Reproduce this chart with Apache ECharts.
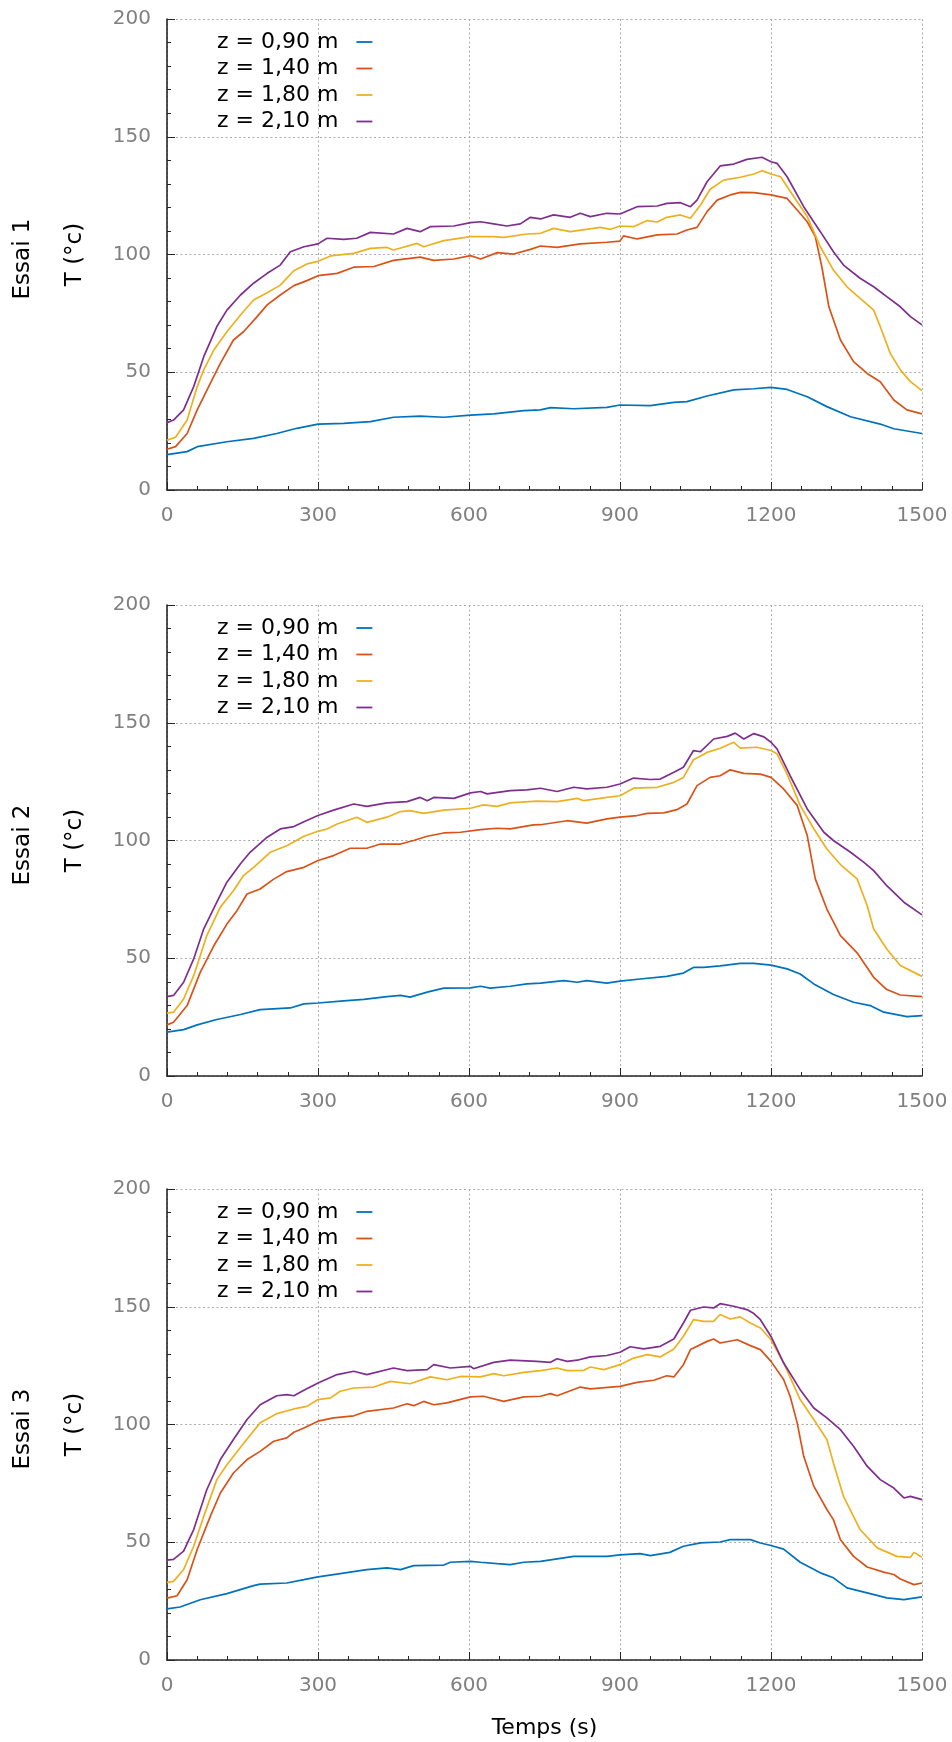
<!DOCTYPE html>
<html>
<head>
<meta charset="utf-8">
<script src="https://cdn.jsdelivr.net/npm/echarts@6/dist/echarts.min.js"></script>
<style>
html,body{margin:0;padding:0;background:#fff;}
#chart{width:952px;height:1742px;}
</style>
</head>
<body>
<div id="chart"></div>
<script>
// ---- data: [time (s), temperature (°C)] ----
const seriesNames = ['z = 0,90 m', 'z = 1,40 m', 'z = 1,80 m', 'z = 2,10 m'];
const trialNames = ['Essai 1', 'Essai 2', 'Essai 3'];
const xTicks = [0, 300, 600, 900, 1200, 1500];
const yTicks = [0, 50, 100, 150, 200];

const e1_090 = [[0,15.0],[40,16.3],[60,18.4],[119,20.5],[172,21.9],[218,24.0],[258,26.2],[300,28.0],[351,28.3],[404,29.0],[450,30.9],[503,31.4],[550,30.9],[603,31.8],[649,32.3],[709,33.7],[742,34.0],[762,35.0],[808,34.5],[874,35.1],[900,36.1],[960,35.8],[1007,37.2],[1033,37.5],[1073,39.9],[1126,42.5],[1166,43.0],[1200,43.6],[1232,42.7],[1272,39.6],[1311,35.4],[1358,31.1],[1417,28.0],[1444,26.0],[1500,24.0]];
const e1_140 = [[0,17.3],[17,18.4],[40,24.0],[60,34.0],[86,45.3],[106,53.8],[132,63.7],[152,67.2],[179,73.6],[199,78.6],[225,82.8],[252,86.8],[278,88.9],[300,91.0],[338,92.0],[371,94.6],[411,94.9],[450,97.5],[503,98.9],[530,97.5],[570,98.1],[603,99.5],[623,98.1],[656,100.8],[689,100.2],[722,102.2],[742,103.6],[775,103.0],[821,104.5],[874,105.2],[900,105.7],[907,107.9],[934,106.6],[974,108.3],[1013,108.7],[1033,110.4],[1053,111.5],[1073,118.2],[1093,123.1],[1119,125.3],[1139,126.4],[1166,126.3],[1200,125.3],[1232,123.8],[1252,118.9],[1272,113.9],[1288,107.6],[1301,94.8],[1315,77.8],[1338,63.7],[1364,54.5],[1391,49.5],[1417,46.0],[1444,38.2],[1470,34.0],[1500,32.3]];
const e1_180 = [[0,21.2],[17,22.4],[40,29.7],[60,43.9],[73,51.0],[93,59.4],[119,67.2],[146,74.3],[172,80.7],[199,83.8],[225,87.0],[252,93.1],[278,96.0],[300,97.1],[325,99.4],[371,100.5],[404,102.6],[437,103.0],[450,101.9],[497,104.7],[510,103.3],[550,105.9],[603,107.6],[649,107.6],[669,107.3],[715,108.7],[742,109.0],[768,111.1],[801,109.7],[861,111.5],[881,110.7],[900,112.1],[927,111.8],[954,114.4],[974,113.8],[993,115.8],[1020,116.8],[1040,115.4],[1060,121.0],[1079,127.7],[1106,131.6],[1139,132.8],[1166,134.2],[1182,135.6],[1200,134.2],[1219,133.0],[1245,124.6],[1272,116.1],[1298,103.3],[1324,93.4],[1351,86.3],[1377,81.4],[1404,76.4],[1417,69.4],[1437,58.0],[1457,51.0],[1477,46.0],[1500,42.2]];
const e1_210 = [[0,28.6],[13,29.7],[33,34.0],[53,43.9],[73,56.6],[99,69.4],[119,76.4],[146,82.8],[172,87.8],[199,92.0],[225,95.5],[245,101.2],[272,103.3],[300,104.5],[318,106.9],[351,106.4],[377,106.9],[404,109.4],[450,108.7],[477,111.1],[503,109.7],[523,111.8],[570,112.1],[603,113.5],[623,113.9],[649,113.0],[675,112.1],[702,113.0],[722,115.8],[742,115.1],[768,116.8],[801,115.8],[821,117.5],[841,116.1],[874,117.5],[900,117.2],[934,120.3],[974,120.6],[993,121.7],[1020,122.0],[1040,120.3],[1053,123.1],[1073,130.9],[1099,137.6],[1126,138.4],[1152,140.4],[1182,141.3],[1200,139.4],[1212,138.7],[1232,133.0],[1265,120.3],[1298,109.7],[1324,101.2],[1344,95.5],[1377,89.9],[1404,86.3],[1430,82.1],[1457,77.8],[1477,73.6],[1500,70.1]];

const e2_090 = [[0,18.6],[33,19.7],[60,21.7],[99,24.0],[146,26.1],[185,28.2],[245,28.9],[272,30.6],[300,31.0],[351,31.9],[391,32.5],[437,33.7],[464,34.2],[483,33.5],[517,35.6],[550,37.3],[603,37.4],[623,38.1],[642,37.3],[682,38.1],[715,39.1],[742,39.4],[788,40.5],[815,39.8],[834,40.5],[874,39.4],[900,40.3],[940,41.2],[993,42.3],[1026,43.7],[1046,46.1],[1066,46.1],[1099,46.8],[1139,47.8],[1166,47.8],[1200,47.1],[1232,45.5],[1258,43.3],[1285,39.1],[1324,34.6],[1364,31.3],[1397,29.9],[1424,27.1],[1470,25.2],[1500,25.6]];
const e2_140 = [[0,21.7],[13,22.8],[40,29.9],[66,44.0],[93,55.3],[119,64.5],[139,70.2],[159,77.3],[185,79.4],[212,83.6],[238,86.8],[272,88.6],[300,91.5],[331,93.6],[364,96.7],[397,96.7],[424,98.5],[464,98.5],[490,100.0],[517,101.8],[550,103.2],[583,103.5],[623,104.6],[656,105.2],[682,104.9],[728,106.6],[742,106.7],[795,108.4],[834,107.4],[874,109.2],[900,109.9],[934,110.6],[954,111.5],[987,111.7],[1013,113.1],[1033,115.5],[1053,123.3],[1079,126.8],[1099,127.5],[1119,130.0],[1146,128.5],[1179,128.2],[1200,126.8],[1225,121.9],[1252,114.9],[1272,102.1],[1288,83.7],[1311,70.9],[1338,59.6],[1371,52.3],[1404,41.9],[1430,36.7],[1457,34.4],[1500,33.7]];
const e2_180 = [[0,26.7],[13,27.1],[33,32.7],[53,42.6],[79,59.6],[106,71.7],[132,78.7],[152,85.1],[172,88.6],[205,95.0],[238,97.8],[272,101.8],[300,103.9],[318,104.9],[338,107.0],[377,109.9],[397,107.7],[437,109.9],[464,112.3],[483,112.7],[510,111.5],[550,112.9],[603,113.7],[629,115.1],[656,114.5],[682,116.0],[735,116.7],[775,116.5],[815,117.9],[828,116.9],[874,118.3],[900,119.0],[927,122.2],[974,122.6],[1007,124.7],[1026,126.8],[1046,134.3],[1073,137.4],[1099,139.2],[1126,141.7],[1139,139.2],[1172,139.6],[1200,138.2],[1212,136.8],[1232,128.2],[1258,114.9],[1285,105.0],[1311,96.4],[1338,89.8],[1371,83.7],[1391,72.4],[1404,62.4],[1430,53.9],[1457,46.9],[1500,42.3]];
const e2_210 = [[0,33.7],[13,34.2],[33,39.8],[53,49.7],[73,62.5],[99,73.8],[119,82.3],[146,90.1],[165,95.0],[199,101.4],[225,104.9],[252,105.9],[272,108.0],[300,110.6],[331,112.9],[371,115.5],[397,114.5],[437,116.0],[477,116.5],[503,118.3],[517,116.9],[530,118.3],[570,117.9],[603,120.2],[623,120.8],[636,119.8],[682,121.2],[715,121.5],[742,122.2],[775,120.8],[808,122.6],[834,121.9],[874,122.6],[900,124.0],[927,126.5],[960,125.9],[980,126.1],[1007,129.0],[1026,131.1],[1046,138.2],[1060,137.7],[1086,143.1],[1113,144.2],[1129,145.6],[1146,143.1],[1166,145.4],[1186,144.0],[1200,141.7],[1212,138.9],[1238,127.5],[1272,113.4],[1305,103.5],[1324,100.0],[1358,95.0],[1384,90.8],[1404,87.2],[1430,80.8],[1464,73.8],[1500,68.4]];

const e3_090 = [[0,21.7],[26,22.5],[66,25.6],[119,28.2],[172,31.6],[185,32.2],[238,32.7],[272,34.1],[300,35.3],[344,36.7],[397,38.4],[437,39.1],[464,38.4],[490,40.1],[550,40.3],[563,41.5],[603,41.9],[623,41.5],[656,40.9],[682,40.5],[709,41.5],[742,41.9],[808,44.0],[874,44.0],[900,44.6],[940,45.2],[960,44.3],[999,45.7],[1026,48.3],[1060,49.7],[1099,50.1],[1119,51.1],[1159,51.1],[1179,49.7],[1200,48.6],[1225,47.1],[1258,41.5],[1298,37.0],[1324,34.9],[1351,30.6],[1391,28.5],[1430,26.4],[1464,25.6],[1500,26.8]];
const e3_140 = [[0,26.3],[20,27.3],[40,34.1],[60,46.9],[86,61.0],[106,70.9],[132,79.4],[159,85.1],[185,88.6],[212,92.9],[238,94.3],[252,96.7],[272,98.5],[300,101.4],[331,102.8],[371,103.7],[397,105.6],[450,107.0],[477,108.8],[490,108.0],[510,109.8],[530,108.4],[556,109.2],[603,111.7],[629,112.0],[669,109.8],[709,111.7],[742,112.0],[762,113.1],[775,112.2],[821,115.9],[841,115.1],[900,116.2],[934,117.9],[967,118.8],[993,120.7],[1007,120.2],[1026,125.4],[1040,131.8],[1073,135.3],[1086,136.3],[1099,134.6],[1133,136.0],[1159,133.5],[1179,131.8],[1200,126.8],[1225,119.1],[1238,112.0],[1252,100.7],[1265,86.5],[1285,73.8],[1311,63.9],[1324,59.6],[1338,51.1],[1364,44.0],[1391,39.5],[1424,37.3],[1444,36.3],[1457,34.4],[1484,32.0],[1500,32.7]];
const e3_180 = [[0,33.0],[13,33.4],[33,38.4],[53,48.3],[73,61.0],[99,76.6],[119,82.9],[152,91.9],[185,100.7],[218,104.6],[252,106.6],[278,107.7],[300,110.6],[325,111.3],[344,114.1],[371,115.5],[411,115.9],[444,118.3],[483,117.3],[523,120.2],[556,119.0],[583,120.4],[623,120.2],[649,121.6],[669,120.7],[709,122.1],[742,122.9],[775,124.0],[795,122.9],[828,123.0],[841,124.4],[868,123.3],[900,125.4],[927,128.2],[954,129.7],[980,128.7],[1007,132.1],[1026,137.5],[1046,144.5],[1066,143.8],[1086,143.8],[1099,146.7],[1119,144.8],[1139,145.7],[1159,143.1],[1179,141.0],[1200,136.0],[1225,126.2],[1258,110.6],[1285,102.1],[1311,93.6],[1324,83.7],[1344,69.5],[1377,55.4],[1411,47.6],[1450,44.0],[1477,43.6],[1484,45.7],[1500,43.6]];
const e3_210 = [[0,42.4],[13,42.7],[33,46.2],[53,55.4],[79,72.3],[106,85.1],[132,93.6],[159,102.1],[185,108.4],[218,112.2],[238,112.7],[252,112.2],[272,114.5],[300,117.6],[338,121.2],[371,122.6],[397,121.2],[450,124.0],[477,122.9],[517,123.3],[530,125.4],[563,124.0],[603,124.7],[609,123.7],[649,126.4],[682,127.3],[735,126.8],[762,126.4],[775,127.9],[795,126.8],[815,127.3],[841,128.7],[874,129.3],[900,130.7],[920,133.0],[947,132.1],[980,133.2],[1007,136.3],[1026,143.1],[1040,148.5],[1066,149.9],[1086,149.5],[1099,151.3],[1126,150.2],[1152,148.8],[1166,147.1],[1179,144.5],[1200,137.4],[1225,126.2],[1258,114.8],[1285,107.0],[1311,102.8],[1338,97.8],[1364,90.8],[1391,82.3],[1417,76.6],[1444,73.0],[1464,68.8],[1477,69.5],[1500,68.1]];

const trials = [
  [e1_090, e1_140, e1_180, e1_210],
  [e2_090, e2_140, e2_180, e2_210],
  [e3_090, e3_140, e3_180, e3_210]
];
const colors = ['#0072BD', '#D95319', '#EDB120', '#7E2F8E'];

// ---- layout ----
const FONT = 'DejaVu Sans';
const gridLeft = 167, gridWidth = 755, gridHeight = 471;
const gridTops = [19, 605, 1189];

const chart = echarts.init(document.getElementById('chart'), null, {renderer: 'canvas'});

const grids = [], xAxes = [], yAxes = [], series = [], legends = [], graphics = [];
const axisColor = '#262626';
const splitLine = {show: true, lineStyle: {color: '#ababab', width: 1, type: [2, 2.5]}};
const plain = v => String(v);

trials.forEach((trial, i) => {
  grids.push({left: gridLeft, top: gridTops[i], width: gridWidth, height: gridHeight, containLabel: false});
  xAxes.push({
    type: 'value', gridIndex: i, min: xTicks[0], max: xTicks[xTicks.length - 1], interval: 300,
    axisLine: {show: true, onZero: false, lineStyle: {color: axisColor, width: 1.6}},
    axisTick: {show: true, inside: true, length: 8, lineStyle: {color: axisColor}},
    minorTick: {show: true, splitNumber: 5, length: 4, lineStyle: {color: axisColor}},
    axisLabel: {color: '#808080', fontSize: 20, fontFamily: FONT, margin: 16, formatter: plain},
    splitLine: splitLine,
    name: i === 2 ? 'Temps (s)' : '',
    nameLocation: 'middle', nameGap: 57,
    nameTextStyle: {color: '#000', fontSize: 22, fontFamily: FONT}
  });
  yAxes.push({
    type: 'value', gridIndex: i, min: yTicks[0], max: yTicks[yTicks.length - 1], interval: 50,
    axisLine: {show: true, lineStyle: {color: axisColor, width: 1.6}},
    axisTick: {show: true, inside: true, length: 8, lineStyle: {color: axisColor}},
    minorTick: {show: true, splitNumber: 5, length: 4, lineStyle: {color: axisColor}},
    axisLabel: {color: '#808080', fontSize: 20, fontFamily: FONT, margin: 16, formatter: plain},
    splitLine: splitLine,
    name: 'T (°c)', nameLocation: 'middle', nameRotate: 90, nameGap: 80,
    nameTextStyle: {color: '#000', fontSize: 23, fontFamily: FONT}
  });
  trial.forEach((data, k) => {
    series.push({
      type: 'line', name: seriesNames[k], xAxisIndex: i, yAxisIndex: i,
      data: data, showSymbol: false, symbol: 'none', smooth: false,
      lineStyle: {color: colors[k], width: 1.7}, itemStyle: {color: colors[k]},
      animation: false
    });
  });
  legends.push({
    data: seriesNames, orient: 'vertical', align: 'right',
    left: 212, top: gridTops[i] + 5,
    itemWidth: 16, itemHeight: 12, itemGap: 0.5,
    icon: 'path://M0,0 L16,0 L16,1.8 L0,1.8 Z',
    textStyle: {color: '#000', fontSize: 22, fontFamily: FONT, lineHeight: 26, padding: [0, 13, 0, 0]},
    selectedMode: false
  });
  graphics.push({
    type: 'text', x: 23, y: gridTops[i] + 240, rotation: Math.PI / 2,
    style: {text: trialNames[i], fill: '#000', fontSize: 23, fontFamily: FONT, align: 'center', verticalAlign: 'middle'}
  });
});

chart.setOption({
  animation: false,
  color: colors,
  grid: grids, xAxis: xAxes, yAxis: yAxes, series: series, legend: legends, graphic: graphics
});
</script>
</body>
</html>
